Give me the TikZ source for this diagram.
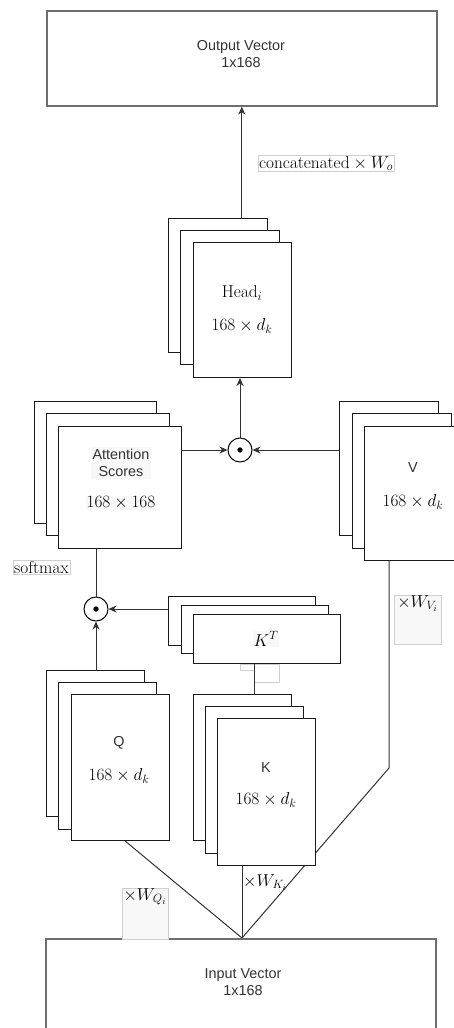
\documentclass[tikz,border=0pt]{standalone}
\usepackage[no-math]{fontspec}
\setmainfont{Liberation Sans}
\usetikzlibrary{arrows.meta,calc,backgrounds}
\definecolor{bord}{HTML}{6E6E6E}
\definecolor{lbl}{HTML}{F8F8F8}
\definecolor{lblb}{HTML}{CFCFCF}
\definecolor{txt}{HTML}{333333}
\begin{document}
\begin{tikzpicture}[x=1pt,y=-1pt,
  card/.style={draw=black!90, fill=white, line width=0.9pt, inner sep=0pt, anchor=north west},
  vecbox/.style={draw=bord, line width=1.6pt, fill=white, inner sep=0pt, anchor=north west},
  conn/.style={draw=txt, line width=1pt},
  arr/.style={conn, -{Stealth[length=8pt,width=7pt,inset=2.5pt]}},
  sans/.style={font=\fontsize{14.4}{17}\selectfont, text=txt, align=center, inner sep=1pt},
  mth/.style={font=\fontsize{18.5}{21}\selectfont, inner sep=1pt},
  tag/.style={draw=lblb, fill=white, inner sep=1pt, line width=0.6pt, font=\fontsize{17}{20}\selectfont},
  wbox/.style={draw=lblb, fill=lbl, line width=0.6pt, inner sep=0pt, anchor=north west},
  odot/.style={circle, draw=black, fill=white, line width=1pt, minimum size=24pt, inner sep=0pt}]
\useasboundingbox (0,0) rectangle (454,1028);

% output / input vectors
\node[vecbox, minimum width=390pt, minimum height=95pt] (out) at (46,10) {};
\node[sans] (outt) at (241,54) {Output Vector\\1x168};
\node[vecbox, minimum width=390pt, minimum height=110pt] (in) at (45,938) {};
\node[sans] (int) at (243,982) {Input Vector\\1x168};

% Head stack
\node[card, minimum width=99pt, minimum height=134pt] (hb) at (168,218) {};
\node[card, minimum width=99pt, minimum height=134pt] (hm) at (180,230) {};
\node[card, minimum width=98pt, minimum height=135pt] (hf) at (193,242) {};
\node[mth] (ht) at (242,293) {$\mathrm{Head}_i$};
\node[mth] (hd) at (242,326) {$168\times d_k$};

% Attention stack
\node[card, minimum width=122pt, minimum height=122pt] (ab) at (34,401) {};
\node[card, minimum width=123pt, minimum height=122pt] (am) at (46,413) {};
\node[card, minimum width=123pt, minimum height=122pt] (af) at (58,426) {};
\node[sans, fill=lbl, inner sep=2pt] (at1) at (121,463) {Attention\\Scores};
\node[mth, fill=lbl] (at2) at (121,503) {$168\times 168$};

% V stack
\node[card, minimum width=99pt, minimum height=134pt] (vb) at (339,401) {};
\node[card, minimum width=99pt, minimum height=135pt] (vm) at (352,413) {};
\node[card, minimum width=99pt, minimum height=134pt] (vf) at (364,426) {};
\node[sans] (vt1) at (413,468) {V};
\node[mth] (vt2) at (413,502) {$168\times d_k$};

% K^T stack
\node[card, minimum width=147pt, minimum height=49pt] (ktb) at (168,596) {};
\node[card, minimum width=147pt, minimum height=48pt] (ktm) at (181,605) {};
\node[card, minimum width=147pt, minimum height=49pt] (ktf) at (193,614) {};
\node[mth, fill=lbl] (ktt) at (266,639) {$K^T$};

% Q stack
\node[card, minimum width=98pt, minimum height=146pt] (qb) at (46,670) {};
\node[card, minimum width=98pt, minimum height=147pt] (qm) at (58,682) {};
\node[card, minimum width=98pt, minimum height=146pt] (qf) at (71,694) {};
\node[sans] (qt1) at (119,743) {Q};
\node[mth] (qt2) at (119,776) {$168\times d_k$};

% K stack
\node[card, minimum width=98pt, minimum height=146pt] (kb) at (193,694) {};
\node[card, minimum width=98pt, minimum height=147pt] (km) at (205,706) {};
\node[card, minimum width=98pt, minimum height=147pt] (kf) at (217,718) {};
\node[sans] (kt1) at (266,768) {K};
\node[mth] (kt2) at (266,800) {$168\times d_k$};

% products
\node[odot] (c1) at (240,450) {};
\fill (c1) circle (2.7pt);
\node[odot] (c2) at (96,609) {};
\fill (c2) circle (2.7pt);

% labels
\node[tag] (concat) at (326,163.5) {$\mathrm{concatenated}\times W_o$};
\node[tag] (soft) at (41.5,567) {$\mathrm{softmax}$};
\node[wbox, minimum width=47pt, minimum height=49pt] (wvbox) at (394,595) {};
\node[mth, anchor=north] (wv) at (417.5,594) {$\times W_{V_i}$};
\node[wbox, minimum width=46pt, minimum height=51pt] (wqbox) at (122,888) {};
\node[mth, anchor=north] (wq) at (145,887) {$\times W_{Q_i}$};
\node[mth, anchor=north west, inner sep=0pt] (wk) at (243,874) {$\times W_{K_i}$};

\coordinate (join) at (242,938);
\coordinate (vbend) at (389,768);

\begin{scope}[on background layer]
  \draw[lblb, line width=0.8pt] (240,664) -- (279,664) -- (279,682) -- (254,682) -- (254,670) -- (240,670) -- cycle;
  \draw[arr] (out.south |- hb.north) -- (out.south);
  \draw[arr] (c1.north) -- (c1.north |- hf.south);
  \draw[arr] (c1 -| af.east) -- (c1.west);
  \draw[arr] (c1 -| vb.west) -- (c1.east);
  \draw[conn] (c2 |- af.south) -- (c2.north);
  \draw[arr] (c2 -| ktb.west) -- (c2.east);
  \draw[arr] (c2 |- qb.north) -- (c2.south);
  \draw[conn] ([xshift=61pt]ktf.south west) -- ([xshift=61pt]ktf.south west |- kb.north);
  \draw[conn] ([xshift=54pt]qf.south west) -- (join);
  \draw[conn] (join |- kf.south) -- (join);
  \draw[conn] (vbend |- vf.south) -- (vbend) -- (join);
\end{scope}
\end{tikzpicture}
\end{document}
